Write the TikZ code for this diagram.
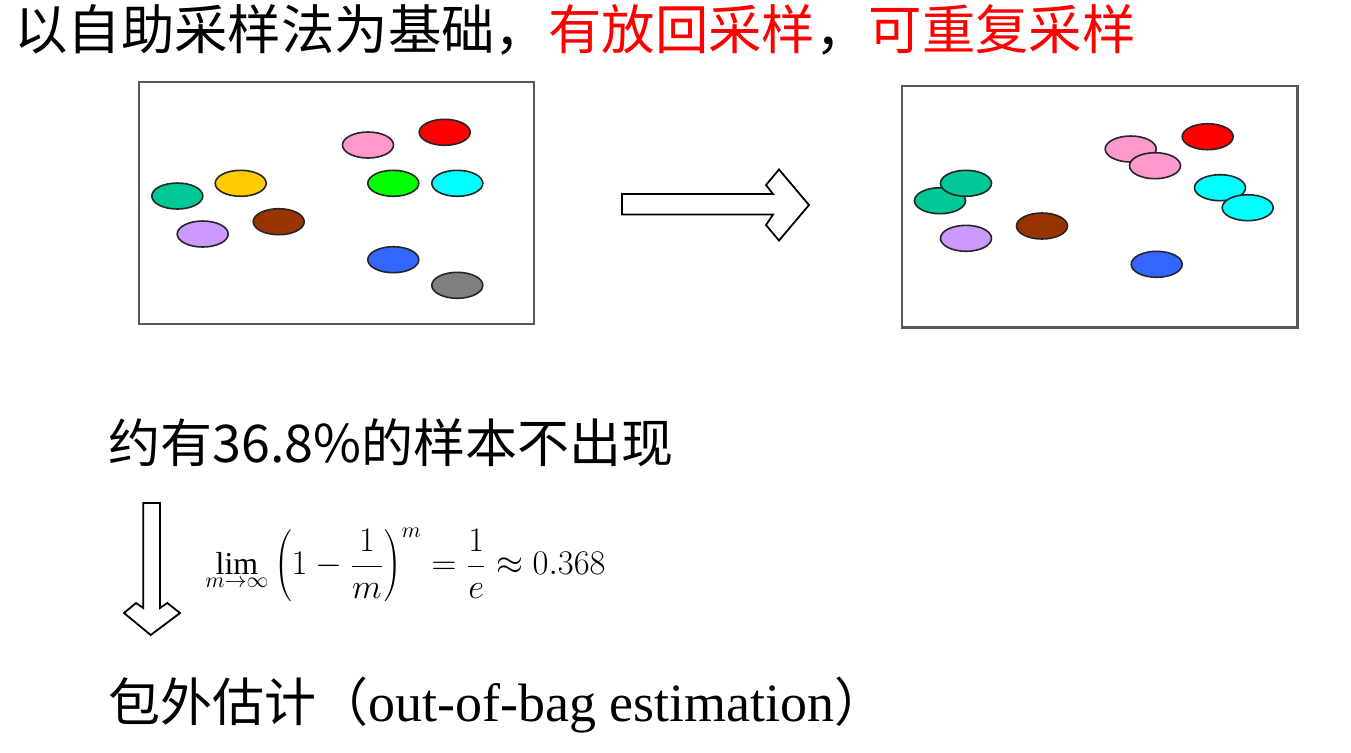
\documentclass[tikz,border=0pt]{standalone}
\usepackage{fontspec}
\setmainfont{Liberation Serif}
\newfontfamily\cjk{Noto Sans CJK SC}
\definecolor{cteal}{RGB}{0,200,150}
\definecolor{cyellow}{RGB}{255,204,0}
\definecolor{cbrown}{RGB}{153,51,0}
\definecolor{clilac}{RGB}{204,153,255}
\definecolor{cpink}{RGB}{255,153,204}
\definecolor{cred}{RGB}{255,0,0}
\definecolor{cgreen}{RGB}{0,255,0}
\definecolor{ccyan}{RGB}{0,255,255}
\definecolor{cblue}{RGB}{51,102,255}
\definecolor{cgray}{RGB}{128,128,128}
\begin{document}
\begin{tikzpicture}[x=0.5pt,y=-0.5pt,
  sample/.style={draw=black!85,line width=0.8pt,fill=#1},
  frame/.style={draw=black!65,line width=1.2pt},
  blockarrow/.style={draw=black,line width=0.9pt,fill=white,line join=miter},
  txt/.style={anchor=west,inner sep=0pt,font=\cjk\fontsize{26}{30}\selectfont}]
\useasboundingbox (0,0) rectangle (1351,752);
% title
\node[txt,font=\cjk\fontsize{26.7}{30}\selectfont] (title) at (14,30) {以自助采样法为基础，\textcolor{cred}{有放回采样}，\textcolor{cred}{可重复采样}};
% left box
\draw[frame] (139,82) rectangle (534,324);
\foreach \px/\py/\c in {368/145/cpink,444.7/132.3/cred,177.3/196/cteal,240.7/183.3/cyellow,393.3/183.3/cgreen,457.3/183.3/ccyan,278.7/221.7/cbrown,202.7/234/clilac,393.3/259.7/cblue,457.3/285.3/cgray}
  \filldraw[sample=\c] (\px,\py) ellipse [x radius=12.75pt,y radius=6.5pt];
% right box
\draw[frame] (901.7,86) rectangle (1297.3,327.3);
\foreach \px/\py/\c in {940/200.7/cteal,966/183.3/cteal,966/238.3/clilac,1042/226/cbrown,1130.7/149/cpink,1155/165.7/cpink,1207.7/136.7/cred,1220/187.7/ccyan,1247.7/207.7/ccyan,1156.7/264.3/cblue}
  \filldraw[sample=\c] (\px,\py) ellipse [x radius=12.75pt,y radius=6.5pt];
% right block arrow
\draw[blockarrow] (622,194) -- (773,194) -- (766,185) -- (779,169.5) -- (809,205) -- (779,240.5) -- (766,225) -- (773,214.5) -- (622,214.5) -- cycle;
% line 2
\node[txt] (line2) at (108,443) {约有36.8\%的样本不出现};
% down block arrow
\draw[blockarrow] (143.3,503) -- (143.3,608) -- (136,603) -- (124,613) -- (150.7,635) -- (180,613) -- (167.3,603) -- (160,608) -- (160,503) -- cycle;
% formula
\node[anchor=west,inner sep=0pt] (formula) at (205,565) {\fontsize{15.9}{19}\selectfont$\displaystyle\lim_{m\to\infty}\left(1-\frac{1}{m}\right)^{m}=\frac{1}{e}\approx 0.368$};
% line 3
\node[txt] (line3) at (108,705) {包外估计（{\rmfamily\fontsize{27}{30}\selectfont out-of-bag estimation}）};
\end{tikzpicture}
\end{document}
